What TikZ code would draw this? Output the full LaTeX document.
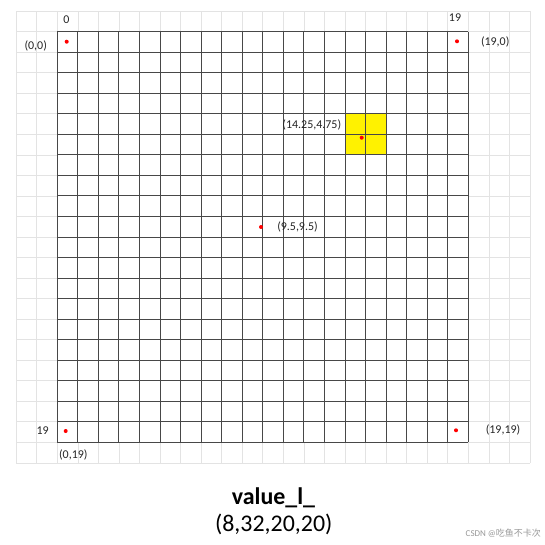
\documentclass[tikz,border=0pt]{standalone}
\usepackage{fontspec}
\setmainfont{Carlito}
\newfontfamily\cjk{Noto Sans CJK SC}
\begin{document}
\begin{tikzpicture}[x=1bp,y=-1bp,
  lightgrid/.style={draw=black!11,line width=0.7bp},
  darkgrid/.style={draw=black!72,line width=0.95bp},
  dot/.style={circle,fill=red,inner sep=0pt,minimum size=4bp},
  lbl/.style={inner sep=0pt,font=\fontsize{12}{14}\selectfont,text=black!85},
  titlestyle/.style={inner sep=0pt,font=\fontsize{24}{28}\selectfont\bfseries},
  subtitle/.style={inner sep=0pt,font=\fontsize{24}{28}\selectfont},
  wmark/.style={inner sep=0pt,font=\fontsize{9}{11}\selectfont,text=black!40}]
\useasboundingbox (0,0) rectangle (545,545);
\fill[white] (0,0) rectangle (545,545);
% light background grid
\foreach \i in {0,...,25} \draw[lightgrid] ({16.2+\i*20.55},11.2) -- ({16.2+\i*20.55},462.8);
\foreach \j in {0,...,22} \draw[lightgrid] (16.2,{11.2+\j*20.53}) -- (529.8,{11.2+\j*20.53});
% white plate under main grid
\fill[white] (57.3,31.7) rectangle (468.3,442.3);
% yellow cells
\fill[yellow] (345.0,113.8) rectangle (386.1,154.9);
% main grid
\foreach \i in {0,...,20} \draw[darkgrid] ({57.3+\i*20.55},31.7) -- ({57.3+\i*20.55},442.3);
\foreach \j in {0,...,20} \draw[darkgrid] (57.3,{31.7+\j*20.53}) -- (468.3,{31.7+\j*20.53});
% dots
\node[dot] (d00) at (66.7,41.7) {};
\node[dot] (d190) at (457,41.3) {};
\node[dot] (d019) at (65.7,431) {};
\node[dot] (d1919) at (456,430.3) {};
\node[dot] (dmid) at (261,227) {};
\node[dot] (dy) at (361.7,137.7) {};
% labels
\node[lbl] (t0) at (66.3,20) {0};
\node[lbl] (t19) at (455,17.3) {19};
\node[lbl] (l19) at (42.7,430.7) {19};
\node[lbl] (c00) at (35.7,46) {(0,0)};
\node[lbl] (c190) at (495.2,41.7) {(19,0)};
\node[lbl] (c019) at (73.3,455) {(0,19)};
\node[lbl] (c1919) at (503,430) {(19,19)};
\node[lbl] (cy) at (311.8,125) {(14.25,4.75)};
\node[lbl] (cmid) at (297.5,226.7) {(9.5,9.5)};
% title
\node[titlestyle] (ttl) at (273.5,497.5) {value\_l\_};
\node[subtitle] (sub) at (273.7,524.5) {(8,32,20,20)};
\node[wmark,anchor=east] (wm) at (541,533) {CSDN @{\cjk 吃鱼不卡次}};
\end{tikzpicture}
\end{document}
